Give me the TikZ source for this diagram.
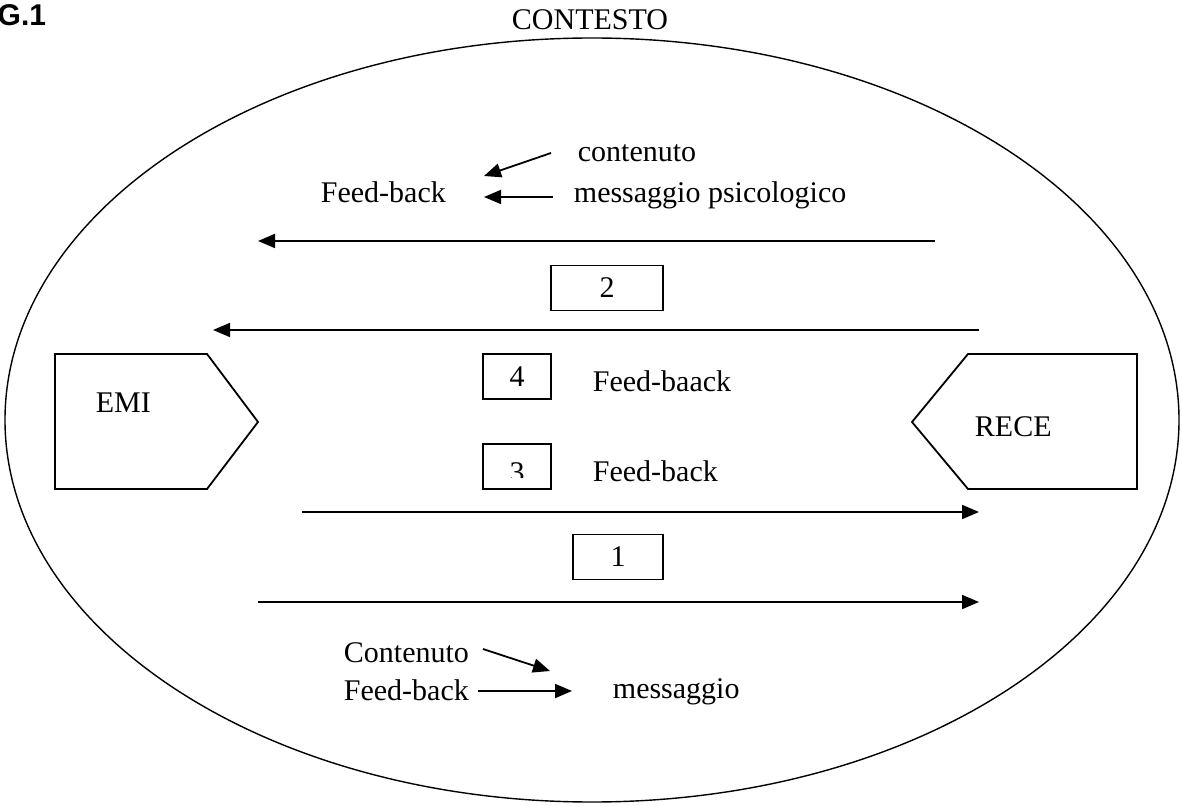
\documentclass[tikz,border=0pt]{standalone}
\usepackage{fontspec}
\setmainfont{Liberation Serif}
\newfontfamily\headfont{Liberation Sans}
\usetikzlibrary{arrows.meta}
\begin{document}
\begin{tikzpicture}[x=0.5pt,y=-0.5pt,
  line width=0.9pt,
  txt/.style={inner sep=0pt,anchor=base west,font=\fontsize{15}{18}\selectfont},
  numbox/.style={draw,line width=0.9pt,inner sep=0pt,minimum width=56pt,minimum height=22.5pt,font=\fontsize{15}{18}\selectfont},
  flow/.style={-{Triangle[length=8.5pt,width=7pt]},line width=0.9pt},
  shield/.style={line width=0.9pt,line join=miter}]
\useasboundingbox (0,0) rectangle (1182,806);
\fill[white] (0,0) rectangle (1182,806);

% title and surrounding context
\node[inner sep=0pt,anchor=base east,font=\headfont\bfseries\fontsize{15}{17}\selectfont] (fig) at (47,26) {G.1};
\node[txt,anchor=base] (ctx) at (590,30) {CONTESTO};
\draw[line width=0.7pt] (592,420) ellipse [x radius=587, y radius=382];

% emitter and receiver
\draw[shield] (55,354) -- (207,354) -- (258,422) -- (207,489) -- (55,489) -- cycle;
\node[txt] (emi) at (95,413) {EMI};
\draw[shield] (1137,354) -- (968,354) -- (912,422) -- (968,489) -- (1137,489) -- cycle;
\node[txt] (rece) at (974,437) {RECE};

% upper feedback labels
\node[txt] (fbtop) at (320,203) {Feed-back};
\node[txt] (cont) at (577,162) {contenuto};
\node[txt] (psico) at (573,203) {messaggio psicologico};
\coordinate (c1s) at (551,153);
\coordinate (c1e) at (484,176);
\coordinate (c2s) at (553,197);
\coordinate (c2e) at (484,197);
\draw[flow] (c1s) -- (c1e);
\draw[flow] (c2s) -- (c2e);

% leftward channels
\coordinate (a1s) at (935,241);
\coordinate (a1e) at (258,241);
\draw[flow] (a1s) -- (a1e);
\node[numbox,minimum width=56pt] (b2) at (607,288) {2};
\coordinate (a2s) at (979,330);
\coordinate (a2e) at (213,330);
\draw[flow] (a2s) -- (a2e);

% middle boxes
\node[numbox,minimum width=34pt] (b4) at (517,376.5) {4};
\node[txt] (fb4) at (592,392) {Feed-baack};
\node[numbox,minimum width=34pt] (b3) at (517,466.5) {};
\begin{scope}
  \clip (485,446) rectangle (549,478);
  \node[inner sep=0pt,anchor=base,font=\fontsize{15}{18}\selectfont] (n3) at (517,482) {3};
\end{scope}
\node[txt] (fb3) at (592,481) {Feed-back};

% rightward channels
\coordinate (a3s) at (302,512);
\coordinate (a3e) at (979,512);
\draw[flow] (a3s) -- (a3e);
\node[numbox,minimum width=45pt] (b1) at (618,557) {1};
\coordinate (a4s) at (258,602);
\coordinate (a4e) at (979,602);
\draw[flow] (a4s) -- (a4e);

% lower message labels
\node[txt] (contb) at (343,662) {Contenuto};
\node[txt] (fbbot) at (343,700) {Feed-back};
\node[txt] (mess) at (612,698) {messaggio};
\coordinate (d1s) at (483,649);
\coordinate (d1e) at (550,671);
\coordinate (d2s) at (478,691);
\coordinate (d2e) at (572,691);
\draw[flow] (d1s) -- (d1e);
\draw[flow] (d2s) -- (d2e);
\end{tikzpicture}
\end{document}
